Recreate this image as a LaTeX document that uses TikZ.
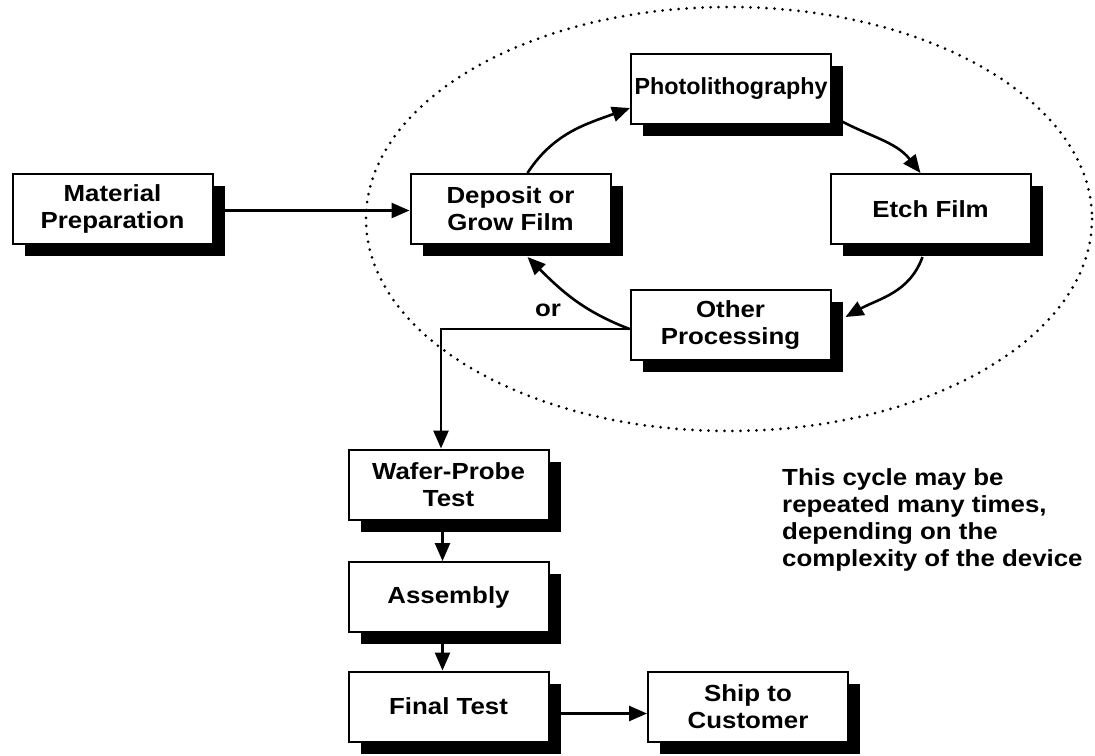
\documentclass[tikz,border=0pt]{standalone}
\usepackage{fontspec}
\setmainfont{Liberation Sans}
\newfontfamily\boxfont[FakeStretch=1.11]{Liberation Sans}
\usetikzlibrary{arrows.meta,shadows,calc}
\begin{document}
\begin{tikzpicture}[x=1pt,y=-1pt,
  box/.style={draw=black, line width=2pt, fill=white, minimum width=200pt,
    minimum height=70pt, align=center, inner sep=0pt,
    font={\boxfont\bfseries\fontsize{23.3pt}{27pt}\selectfont},
    drop shadow={shadow xshift=12pt, shadow yshift=-12pt, fill=black, opacity=1}},
  plainfont/.style={font={\bfseries\fontsize{23.3pt}{27pt}\selectfont}},
  conn/.style={line width=2.6pt, -{Triangle[length=18pt,width=15pt]}},
  cycle/.style={line width=3pt, line cap=round, dash pattern=on 0pt off 8pt},
  lbl/.style={inner sep=0pt, font={\boxfont\bfseries\fontsize{23.3pt}{27pt}\selectfont}}
]
\useasboundingbox (0,0) rectangle (1095,755);

% dotted cycle ellipse
\draw[cycle] (729,219) ellipse [x radius=363, y radius=212];

% boxes
\node[box] (mat) at (112.5,208.5) {Material\\Preparation};
\node[box] (dep) at (510.5,209) {Deposit or\\Grow Film};
\node[box, plainfont] (photo) at (731,89) {\raisebox{5pt}{Photolithography}};
\node[box] (etch) at (930.5,209) {Etch Film};
\node[box] (other) at (730.5,325) {Other\\Processing};
\node[box] (wafer) at (448.5,484.5) {Wafer-Probe\\Test};
\node[box] (asm) at (448.5,597) {Assembly};
\node[box] (final) at (448.5,706.5) {Final Test};
\node[box] (ship) at (748,707) {Ship to\\Customer};

% connectors
\draw[conn] ([yshift=-2pt]mat.east) -- ([yshift=-2pt]mat.east -| dep.west);
\draw[conn] ($(dep.north)+(17,0)$) to[out=57, in=200] ($(photo.west)+(0,19)$);
\draw[conn] ($(photo.east)+(0,27)$) to[out=-30, in=128] ($(etch.north)+(-10,0)$);
\draw[conn] ($(etch.south)+(-8,12)$) to[out=-110, in=29] ($(other.east)+(14,-8)$);
\draw[conn] ($(other.west)+(0,4)$) to[out=159, in=-45] ($(dep.south)+(17,12)$);
\coordinate (bend) at (441,329);
\draw[conn] ($(other.west)+(0,4)$) -- (bend) -- (bend |- wafer.north);
\draw[conn] ([xshift=-6pt]wafer.south) -- ([xshift=-6pt]asm.north);
\draw[conn] ([xshift=-6pt]asm.south) -- ([xshift=-6pt]final.north);
\draw[conn] ([yshift=-7pt]final.east) -- ([yshift=-7pt]final.east -| ship.west);

% labels
\node[lbl] (or) at (548,310) {or};
\node[lbl, anchor=north west, align=left] (note) at (782,468)
  {This cycle may be\\repeated many times,\\depending on the\\complexity of the device};
\end{tikzpicture}
\end{document}
